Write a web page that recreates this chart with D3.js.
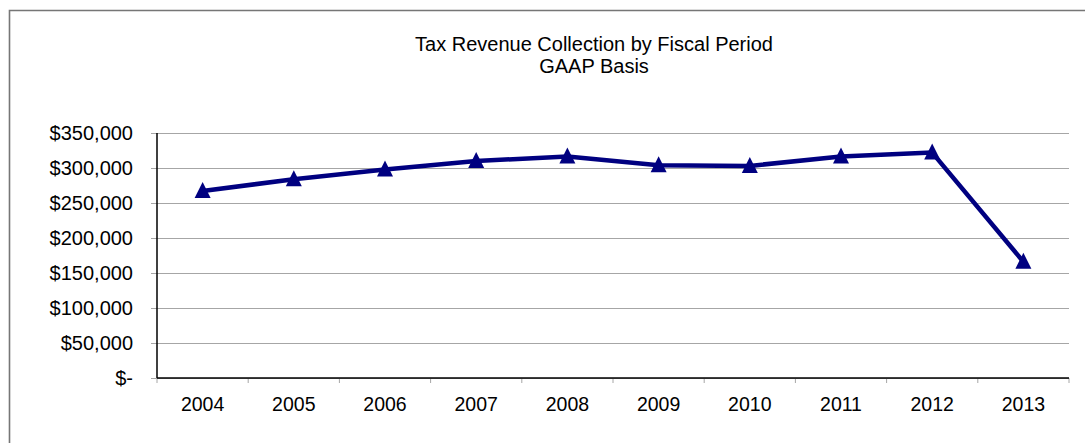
<!DOCTYPE html>
<html>
<head>
<meta charset="utf-8">
<script src="https://cdn.jsdelivr.net/npm/d3@7"></script>
<style>
  html, body { margin: 0; padding: 0; background: #fff; }
  svg { display: block; font-family: Arial, "Liberation Sans", sans-serif; }
</style>
</head>
<body>
<svg id="chart" width="1085" height="443"></svg>
<script>
// Fiscal years and tax revenue collected (GAAP basis)
const years = ["2004", "2005", "2006", "2007", "2008", "2009", "2010", "2011", "2012", "2013"];
const revenue = [267000, 284000, 298000, 310000, 316500, 304000, 303000, 316500, 322000, 166000];
const yTicks = [0, 50000, 100000, 150000, 200000, 250000, 300000, 350000];
const titleLines = ["Tax Revenue Collection by Fiscal Period", "GAAP Basis"];

const svg = d3.select("#chart");
const W = 1085, H = 443;
const plot = { left: 157, right: 1069, top: 133, bottom: 378 };

// Outer frame
svg.append("path")
  .attr("d", `M9.5,${H + 2} L9.5,10.5 L${W + 2},10.5`)
  .attr("fill", "none")
  .attr("stroke", "#767676")
  .attr("stroke-width", 1.6);

// Title
const title = svg.append("text")
  .attr("text-anchor", "middle")
  .attr("font-size", 20)
  .attr("fill", "#000");
titleLines.forEach((t, i) => {
  title.append("tspan").attr("x", 594).attr("y", 51 + i * 22).text(t);
});

const x = d3.scaleBand().domain(years).range([plot.left, plot.right]).paddingInner(0).paddingOuter(0);
const y = d3.scaleLinear().domain([0, 350000]).range([plot.bottom, plot.top]);

const fmt = v => v === 0 ? "$-" : "$" + d3.format(",")(v);

// Y axis with horizontal gridlines
const yAxis = svg.append("g")
  .attr("transform", `translate(${plot.left},0)`)
  .call(d3.axisLeft(y).tickValues(yTicks).tickFormat(fmt).tickSize(-(plot.right - plot.left)).tickPadding(24));
yAxis.select(".domain").remove();
yAxis.selectAll(".tick line")
  .attr("x1", -6)
  .attr("stroke", "#a6a6a6")
  .attr("stroke-width", 1);
yAxis.selectAll(".tick text")
  .attr("font-size", 20)
  .attr("font-family", "Arial, 'Liberation Sans', sans-serif")
  .attr("fill", "#000")
  .attr("dy", "0.34em");

// X axis with category boundary ticks
const xAxis = svg.append("g").attr("transform", `translate(0,${plot.bottom})`);
const bounds = years.map(d => x(d)).concat([plot.right]);
xAxis.selectAll("line.tk").data(bounds).join("line")
  .attr("class", "tk")
  .attr("x1", d => d).attr("x2", d => d)
  .attr("y1", 0).attr("y2", 5)
  .attr("stroke", "#a6a6a6");
xAxis.selectAll("text").data(years).join("text")
  .attr("x", d => x(d) + x.bandwidth() / 2)
  .attr("y", 33)
  .attr("text-anchor", "middle")
  .attr("font-size", 19.5)
  .attr("fill", "#000")
  .text(d => d);

// Axis lines
svg.append("line")
  .attr("x1", plot.left).attr("x2", plot.left)
  .attr("y1", plot.top).attr("y2", plot.bottom)
  .attr("stroke", "#000").attr("stroke-width", 1.5);
svg.append("line")
  .attr("x1", plot.left).attr("x2", plot.right)
  .attr("y1", plot.bottom).attr("y2", plot.bottom)
  .attr("stroke", "#000").attr("stroke-width", 1.5);

// Revenue line
const data = years.map((yr, i) => ({ yr, v: revenue[i] }));
const cx = d => x(d.yr) + x.bandwidth() / 2;
svg.append("path")
  .datum(data)
  .attr("d", d3.line().x(cx).y(d => y(d.v)))
  .attr("fill", "none")
  .attr("stroke", "#000080")
  .attr("stroke-width", 4.5)
  .attr("stroke-linejoin", "round");

// Triangle markers
const tri = "M0,-9 L8,7 L-8,7 Z";
svg.selectAll("path.marker").data(data).join("path")
  .attr("class", "marker")
  .attr("d", tri)
  .attr("transform", d => `translate(${cx(d)},${y(d.v)})`)
  .attr("fill", "#000080");
</script>
</body>
</html>
